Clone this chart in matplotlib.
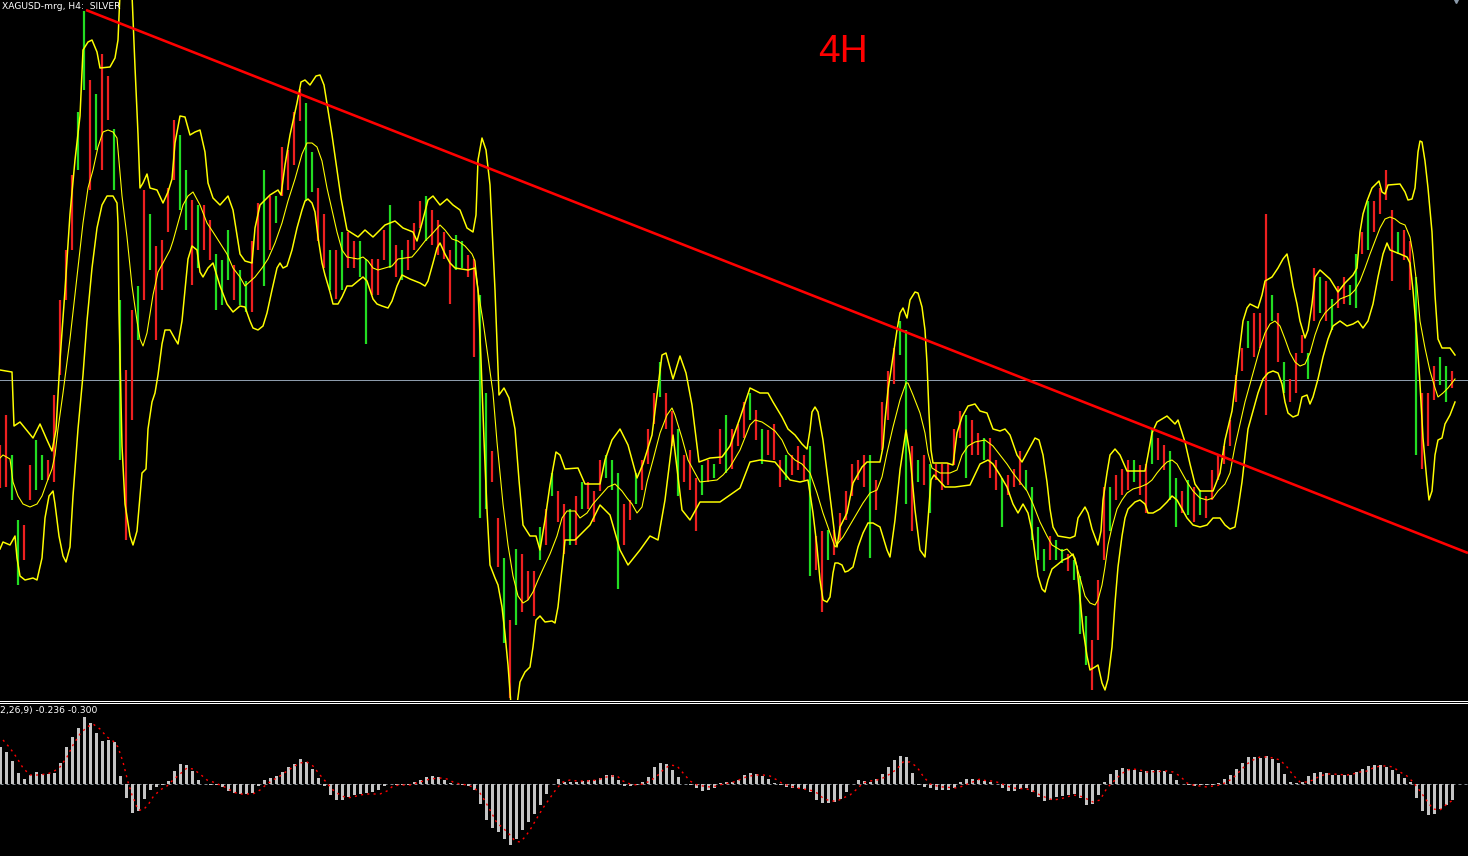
"""XAGUSD H4 chart (MT4 dark style): bars, three yellow bands, trendline, MACD pane."""
import matplotlib
matplotlib.use("Agg")
import matplotlib.pyplot as plt
from matplotlib.lines import Line2D

# time axis in 2-hour steps (one H4 bar = 2 steps), every 3rd bar drawn
# prices in points above the pane floor (1 pt = 0.005 USD)

bar_t = list(range(0, 1453, 6))
bar_hi = [
    255, 285, 245, 180, 175, 235, 260, 245, 240, 305,
    400, 450, 525, 588, 689, 620, 606, 646, 624, 571,
    400, 330, 390, 414, 510, 486, 454, 460, 512, 580,
    565, 530, 500, 495, 495, 480, 446, 440, 470, 435,
    430, 419, 459, 497, 530, 504, 504, 553, 550, 588,
    611, 597, 548, 512, 486, 450, 450, 468, 468, 459,
    459, 441, 441, 441, 470, 495, 455, 450, 460, 477,
    499, 504, 490, 480, 468, 450, 465, 459, 445, 441,
    405, 307, 249, 182, 142, 80, 151, 146, 129, 129,
    173, 191, 227, 209, 196, 191, 204, 218, 218, 209,
    240, 245, 240, 227, 196, 200, 227, 240, 271, 307,
    338, 307, 289, 271, 245, 250, 222, 235, 240, 236,
    271, 285, 271, 276, 298, 307, 290, 271, 270, 276,
    240, 245, 245, 254, 245, 254, 164, 169, 170, 170,
    187, 209, 236, 240, 245, 245, 220, 298, 329, 352,
    379, 370, 254, 240, 245, 236, 236, 236, 236, 271,
    289, 285, 280, 267, 262, 262, 240, 222, 225, 231,
    249, 230, 213, 173, 151, 164, 160, 151, 146, 140,
    124, 84, 60, 120, 213, 213, 225, 231, 240, 240,
    235, 236, 271, 262, 255, 249, 222, 209, 220, 213,
    210, 204, 230, 245, 254, 280, 325, 352, 379, 387,
    387, 486, 405, 387, 338, 321, 347, 365, 347, 432,
    423, 419, 401, 414, 423, 415, 446, 468, 499, 499,
    512, 530, 490, 468, 470, 459, 423, 307, 307, 334,
    343, 334, 329,
]
bar_lo = [
    212, 213, 200, 115, 140, 200, 210, 220, 220, 218,
    325, 400, 450, 530, 610, 510, 550, 530, 580, 510,
    240, 160, 280, 360, 400, 430, 360, 410, 468, 520,
    490, 470, 415, 432, 450, 440, 390, 395, 420, 400,
    395, 388, 388, 450, 414, 450, 477, 504, 510, 535,
    579, 499, 508, 459, 432, 410, 401, 410, 432, 432,
    423, 356, 405, 405, 440, 432, 423, 420, 430, 450,
    472, 459, 455, 445, 441, 396, 430, 432, 423, 343,
    182, 191, 218, 133, 57, 2, 75, 88, 100, 84,
    140, 155, 204, 178, 146, 155, 155, 191, 191, 178,
    209, 222, 210, 111, 155, 180, 196, 210, 236, 276,
    303, 271, 254, 204, 218, 210, 169, 205, 218, 222,
    236, 227, 231, 254, 262, 280, 260, 236, 245, 240,
    213, 220, 225, 230, 220, 124, 130, 88, 140, 145,
    160, 180, 204, 220, 213, 142, 190, 250, 280, 316,
    345, 196, 169, 218, 215, 187, 220, 210, 215, 235,
    262, 222, 245, 245, 240, 222, 210, 173, 205, 213,
    215, 210, 160, 140, 129, 140, 140, 137, 129, 120,
    66, 35, 10, 60, 140, 169, 200, 205, 210, 218,
    205, 187, 236, 240, 230, 200, 173, 187, 185, 178,
    185, 182, 200, 220, 236, 254, 298, 329, 352, 343,
    352, 285, 379, 338, 307, 298, 307, 347, 321, 379,
    387, 379, 370, 392, 396, 395, 392, 446, 450, 468,
    486, 500, 419, 446, 440, 410, 245, 231, 254, 300,
    315, 298, 312,
]
bar_dir = (
    "rrggrrggrr" "rrrggrgrrg" "grrgrgrrrr" "ggrgrrgggr" "ggrrgrgrrr"
    "rggrrgrgrr" "ggrrrgrgrr" "rgrrrrggrr" "ggrrgrgrrr" "grgrrgrgrr"
    "rgggrrgrrr" "grrgrrrgrg" "rgrrrgrgrr" "rgrrrgrrgr" "rrrrrgrrrr"
    "ggrgrgrrrr" "rgrrgrrgrr" "rggggrggrg" "ggrrrgrrrg" "rrgrrggrgr"
    "grrrrrrrgr" "rrgrgrrrgr" "grgrrggrgr" "rrrgrrgrrr" "ggr"
)

upper = [
    (0, 330), (12, 328), (14, 274), (20, 278), (33, 262), (40, 276), (47, 260), (52, 249),
    (56, 270), (60, 340), (65, 410), (70, 486), (75, 540), (80, 584), (83, 650), (88, 658),
    (92, 660), (97, 648), (100, 632), (110, 633), (115, 642), (118, 660), (121, 730),
    (131, 730), (135, 633), (138, 566), (140, 512), (143, 517), (147, 526), (150, 512),
    (157, 510), (163, 497), (168, 508), (172, 521), (175, 557), (180, 584), (185, 583),
    (190, 565), (195, 568), (200, 570), (205, 548), (208, 517), (213, 502), (220, 495),
    (228, 504), (233, 490), (240, 446), (245, 439), (252, 437), (255, 472), (260, 495),
    (270, 505), (278, 510), (281, 505), (285, 535), (290, 565), (297, 597), (301, 618),
    (305, 620), (310, 615), (316, 624), (320, 625), (324, 615), (328, 590), (332, 565),
    (337, 530), (341, 502), (347, 470), (358, 463), (365, 470), (373, 463), (385, 475),
    (395, 479), (403, 472), (413, 468), (417, 459), (422, 477), (428, 500), (433, 504),
    (440, 495), (447, 501), (453, 495), (460, 490), (467, 472), (473, 468), (476, 485),
    (478, 540), (482, 562), (486, 550), (490, 515), (495, 410), (499, 305), (504, 312),
    (509, 302), (515, 271), (519, 220), (523, 175), (530, 164), (536, 164), (540, 150),
    (545, 180), (550, 215), (556, 248), (560, 245), (565, 231), (578, 232), (585, 216),
    (600, 216), (605, 240), (612, 260), (620, 271), (628, 255), (637, 222), (643, 236),
    (652, 265), (657, 305), (662, 345), (666, 347), (673, 321), (680, 344), (686, 327),
    (692, 295), (699, 238), (710, 242), (722, 243), (730, 254), (740, 282), (750, 312),
    (760, 307), (768, 307), (773, 298), (782, 283), (788, 271), (795, 265), (802, 256),
    (807, 251), (810, 270), (812, 288), (815, 293), (818, 288), (823, 260), (828, 220),
    (832, 187), (835, 163), (837, 153), (840, 173), (847, 187), (853, 217), (862, 233),
    (867, 238), (880, 238), (883, 253), (885, 280), (888, 310), (893, 343), (897, 370),
    (900, 387), (903, 392), (907, 382), (910, 400), (915, 408), (918, 407), (922, 393),
    (925, 370), (927, 337), (929, 287), (931, 250), (933, 237), (947, 237), (953, 235),
    (957, 267), (962, 283),
    (968, 294), (975, 296), (980, 289), (987, 287), (993, 271), (1000, 269), (1005, 271),
    (1010, 265), (1017, 245), (1022, 238), (1028, 249), (1035, 262), (1039, 260),
    (1043, 245), (1047, 218), (1050, 191), (1053, 173), (1058, 164), (1070, 162),
    (1075, 164), (1078, 182), (1085, 193), (1088, 187), (1092, 171), (1098, 155),
    (1101, 169), (1103, 200), (1107, 227), (1110, 245), (1115, 251), (1120, 245),
    (1127, 229), (1145, 229), (1148, 245), (1152, 267), (1157, 278), (1167, 284),
    (1175, 276), (1178, 280), (1185, 258), (1190, 236), (1195, 216), (1200, 209),
    (1213, 209), (1220, 227), (1225, 260), (1232, 289), (1237, 329), (1243, 379),
    (1247, 392), (1250, 396), (1258, 392), (1262, 405), (1265, 419), (1272, 423),
    (1278, 432), (1283, 441), (1287, 446), (1290, 432), (1293, 414), (1297, 396),
    (1300, 379), (1305, 362), (1308, 370), (1312, 396), (1315, 423), (1320, 430),
    (1330, 421), (1338, 408), (1345, 417), (1353, 425), (1357, 432), (1360, 468),
    (1363, 486), (1367, 499), (1372, 512), (1379, 519), (1382, 508), (1385, 506),
    (1388, 515), (1400, 516), (1405, 508), (1408, 500), (1412, 501), (1415, 512),
    (1418, 548), (1420, 559), (1422, 558), (1425, 539), (1428, 512), (1432, 468),
    (1435, 405), (1438, 361), (1442, 352), (1450, 352), (1455, 345),
]

middle = [
    (0, 242), (3, 245), (10, 241), (13, 218), (18, 204), (23, 196), (30, 193), (37, 196),
    (42, 204), (47, 218), (52, 231), (55, 245), (58, 271), (63, 307), (70, 361), (77, 423),
    (83, 477), (88, 512), (93, 530), (98, 553), (103, 568), (108, 570), (113, 568),
    (117, 562), (122, 504), (127, 463), (132, 414), (137, 379), (140, 361), (143, 354),
    (147, 367), (153, 405), (158, 428), (163, 437), (170, 450), (173, 459), (178, 477),
    (183, 495), (188, 504), (193, 508), (200, 495), (207, 477), (213, 468), (220, 457),
    (227, 446), (233, 432), (240, 423), (245, 414), (255, 423), (262, 432), (268, 441),
    (275, 457), (282, 477), (288, 499), (295, 521), (302, 546), (307, 557), (312, 557),
    (317, 553), (322, 539), (327, 512), (332, 490), (337, 468), (342, 450), (347, 443),
    (358, 441), (363, 443), (368, 439), (373, 432), (378, 430), (385, 432), (392, 434),
    (398, 441), (412, 443), (418, 450), (425, 459), (432, 466), (440, 475), (445, 470),
    (452, 461), (458, 459), (465, 454), (472, 446), (475, 439), (478, 410), (483, 379),
    (488, 343), (493, 307), (497, 258), (500, 227), (503, 196), (508, 155), (513, 124),
    (518, 104), (523, 97), (528, 100), (533, 108), (538, 120), (543, 131), (550, 146),
    (557, 164), (562, 182), (567, 189), (575, 189), (580, 182), (587, 187), (593, 196),
    (600, 204), (608, 213), (615, 216), (622, 209), (627, 202), (632, 196), (637, 187),
    (642, 193), (647, 218), (653, 240), (660, 267), (667, 285), (672, 292), (675, 285),
    (682, 262), (688, 240), (695, 227), (700, 218), (717, 220), (723, 225), (730, 233),
    (740, 250), (750, 275), (755, 280), (762, 278), (768, 274), (775, 269), (782, 260),
    (788, 247), (795, 240), (802, 236), (810, 227), (817, 207), (823, 187), (830, 167),
    (835, 153), (843, 163), (853, 180), (863, 197), (870, 207), (877, 210), (882, 223),
    (887, 247), (893, 273), (900, 300), (906, 317), (908, 317), (913, 305), (920, 287),
    (925, 267), (928, 247), (932, 232), (940, 227), (950, 227), (957, 230), (962, 245),
    (968, 254), (975, 258), (985, 260), (993, 254),
    (1000, 245), (1007, 236), (1013, 227), (1020, 218), (1027, 209), (1033, 196),
    (1040, 178), (1047, 164), (1052, 155), (1062, 149), (1067, 151), (1075, 142),
    (1078, 129), (1082, 115), (1085, 104), (1090, 97), (1095, 95), (1098, 100),
    (1102, 115), (1105, 133), (1108, 155), (1112, 173), (1117, 191), (1122, 200),
    (1127, 207), (1133, 211), (1140, 213), (1147, 216), (1152, 220), (1157, 227),
    (1162, 233), (1167, 238), (1172, 240), (1177, 236), (1182, 227), (1187, 218),
    (1193, 209), (1200, 202), (1207, 200), (1213, 202), (1218, 209), (1225, 216),
    (1230, 227), (1235, 254), (1240, 276), (1245, 298), (1250, 316), (1255, 334),
    (1260, 352), (1265, 367), (1270, 376), (1275, 379), (1280, 374), (1285, 361),
    (1290, 347), (1295, 338), (1300, 334), (1305, 336), (1310, 347), (1315, 365),
    (1320, 379), (1325, 387), (1330, 392), (1335, 396), (1340, 401), (1345, 403),
    (1350, 405), (1355, 410), (1360, 419), (1365, 432), (1370, 446), (1375, 459),
    (1380, 472), (1385, 481), (1390, 483), (1395, 481), (1400, 477), (1405, 475),
    (1410, 463), (1413, 446), (1417, 414), (1420, 379), (1425, 352), (1430, 329),
    (1435, 312), (1438, 303), (1443, 307), (1448, 312), (1455, 321),
]

lower = [
    (0, 151), (3, 158), (10, 155), (15, 164), (17, 142), (20, 124), (25, 120), (33, 122),
    (37, 120), (42, 142), (45, 182), (49, 204), (53, 209), (55, 196), (59, 164), (63, 144),
    (66, 138), (70, 153), (73, 204), (78, 271), (83, 325), (87, 379), (92, 432), (97, 472),
    (102, 495), (107, 504), (113, 504), (117, 497), (118, 477), (119, 388), (122, 254),
    (125, 196), (130, 164), (133, 155), (137, 169), (140, 204), (142, 227), (146, 231),
    (148, 271), (152, 298), (155, 307), (158, 325), (162, 356), (165, 370), (170, 370),
    (175, 361), (178, 356), (182, 379), (185, 410), (188, 441), (192, 454), (197, 450),
    (200, 428), (203, 423), (208, 432), (213, 437), (220, 414), (227, 396), (233, 388),
    (240, 394), (245, 393), (250, 379), (253, 372), (258, 370), (263, 374), (267, 387),
    (272, 410), (277, 432), (280, 437), (283, 432), (287, 434), (292, 450), (297, 472),
    (302, 490), (305, 499), (308, 501), (312, 497), (315, 488), (318, 463), (322, 437),
    (325, 425), (330, 408), (333, 396), (338, 396), (342, 403), (347, 414), (352, 414),
    (358, 419), (363, 423), (367, 419), (370, 410), (373, 401), (377, 396), (382, 394),
    (388, 392), (392, 399), (397, 414), (402, 425), (410, 421), (420, 417), (425, 414),
    (428, 419), (433, 437), (437, 452), (440, 457), (445, 446), (450, 437), (455, 432),
    (468, 430), (475, 432), (478, 410), (481, 340), (484, 260), (487, 190), (490, 135),
    (495, 122), (498, 115), (502, 93), (505, 66), (508, 35), (511, -5), (517, -5),
    (520, 18), (525, 28), (530, 33), (533, 53), (536, 80), (540, 84), (545, 78),
    (552, 79), (555, 77), (558, 93), (565, 160), (575, 160), (590, 175), (600, 195),
    (610, 185), (620, 150), (628, 135), (640, 150), (650, 164), (658, 160), (665, 200),
    (673, 265), (682, 190), (690, 180), (700, 198), (720, 198), (730, 205), (740, 212),
    (750, 238), (760, 240), (775, 238), (790, 220), (800, 218), (808, 220), (813, 187),
    (817, 153), (820, 120), (823, 100), (827, 98), (830, 103), (833, 127), (835, 137),
    (838, 137), (842, 135), (845, 128), (848, 129), (853, 133), (858, 153), (863, 167),
    (868, 177), (873, 177), (880, 173), (883, 163), (887, 150), (890, 143), (895, 180),
    (900, 230), (906, 270), (910, 245), (915, 190), (920, 150), (925, 143), (928, 180),
    (931, 220), (934, 225), (945, 213), (955, 213), (970, 215), (980, 236), (988, 240),
    (993, 236),
    (1000, 225), (1007, 213), (1013, 196), (1018, 187), (1023, 196), (1028, 187),
    (1032, 169), (1035, 146), (1038, 124), (1042, 111), (1045, 108), (1048, 120),
    (1052, 131), (1057, 135), (1063, 140), (1068, 142), (1073, 146), (1077, 133),
    (1080, 102), (1083, 71), (1087, 44), (1090, 30), (1095, 33), (1098, 35), (1102, 17),
    (1105, 10), (1108, 21), (1112, 53), (1115, 97), (1118, 133), (1122, 164), (1125, 182),
    (1128, 191), (1135, 198), (1140, 200), (1145, 196), (1148, 187), (1153, 187),
    (1160, 191), (1167, 198), (1172, 204), (1177, 200), (1182, 191), (1187, 182),
    (1193, 175), (1200, 173), (1207, 175), (1213, 182), (1220, 182), (1225, 175),
    (1230, 171), (1235, 173), (1238, 191), (1242, 218), (1245, 245), (1248, 271),
    (1253, 289), (1258, 307), (1263, 321), (1268, 327), (1273, 329), (1278, 327),
    (1282, 316), (1285, 298), (1288, 287), (1293, 283), (1298, 285), (1302, 303),
    (1307, 305), (1310, 296), (1313, 303), (1318, 321), (1323, 343), (1328, 361),
    (1333, 374), (1340, 379), (1347, 374), (1353, 376), (1358, 379), (1363, 372),
    (1368, 379), (1373, 396), (1378, 423), (1383, 446), (1387, 457), (1390, 450),
    (1395, 448), (1400, 446), (1407, 443), (1410, 437), (1413, 410), (1417, 361),
    (1420, 316), (1423, 262), (1427, 218), (1429, 200), (1432, 209), (1435, 245),
    (1438, 260), (1442, 262), (1445, 276), (1450, 285), (1455, 298),
]

trend_t = [86, 1468]
trend_p = [690, 147]
level_p = 320

# MACD(12,26,9): histogram per drawn bar, signal sampled along the pane
macd_hist = [
    37, 32, 23, 11, 5, 9, 12, 10, 10, 11,
    21, 37, 47, 56, 67, 61, 51, 43, 44, 42,
    8, -14, -29, -27, -15, -6, -3, -1, 3, 13,
    20, 19, 13, 4, 0, -1, -1, -3, -7, -9,
    -10, -10, -9, -2, 4, 6, 8, 12, 17, 20,
    25, 22, 15, 6, -2, -11, -16, -16, -13, -11,
    -10, -9, -8, -6, -2, 0, -1, -1, -1, 2,
    4, 7, 8, 7, 4, 1, 0, -1, -2, -6,
    -20, -36, -44, -48, -55, -61, -55, -46, -38, -30,
    -21, -10, 0, 5, 2, 2, 2, 3, 4, 4,
    6, 9, 9, 4, -2, -2, -1, 2, 7, 17,
    21, 20, 14, 7, 0, -1, -4, -7, -6, -4,
    1, 2, 2, 4, 9, 11, 10, 8, 5, 1,
    -1, -3, -4, -4, -5, -8, -16, -19, -19, -18,
    -15, -8, 0, 4, 3, 2, 5, 10, 17, 24,
    28, 27, 11, -1, -3, -4, -6, -6, -6, -4,
    2, 5, 5, 4, 3, 2, 0, -4, -7, -7,
    -5, -4, -8, -13, -17, -16, -13, -12, -11, -10,
    -14, -21, -20, -11, 2, 10, 14, 16, 15, 14,
    12, 13, 14, 14, 13, 10, 4, 0, -1, -2,
    -1, -1, -1, 1, 5, 9, 15, 21, 27, 27,
    26, 28, 25, 21, 10, 2, 1, 2, 8, 11,
    12, 11, 9, 9, 9, 9, 12, 15, 18, 19,
    19, 17, 14, 10, 6, 2, -14, -27, -31, -30,
    -25, -21, -16,
]
macd_signal = [
    (3, 44), (10, 36), (17, 26), (23, 16), (30, 9), (37, 9), (47, 10), (53, 12), (60, 17),
    (67, 27), (73, 39), (80, 50), (87, 57), (93, 60), (100, 55), (107, 47), (113, 43),
    (118, 37), (123, 22), (128, 2), (132, -11), (135, -18), (138, -26), (143, -26),
    (148, -21), (153, -13), (160, -6), (167, -2), (173, 4), (180, 10), (187, 16),
    (193, 15), (200, 10), (207, 4), (213, 2), (220, -1), (227, -4), (233, -8), (240, -10),
    (253, -10), (260, -6), (267, 0), (273, 4), (280, 8), (287, 13), (293, 17), (300, 21),
    (307, 22), (313, 18), (320, 9), (327, 1), (333, -6), (340, -11), (347, -14),
    (353, -13), (360, -11), (367, -10), (380, -10), (387, -7), (393, -2), (400, -1),
    (410, -1), (420, 2), (430, 5), (440, 6), (447, 5), (453, 2), (460, 0), (467, -1),
    (473, -3), (480, -9), (485, -17), (490, -26), (497, -39), (503, -44), (510, -51),
    (515, -57), (520, -58), (525, -53), (530, -46), (537, -34), (543, -24), (550, -14),
    (557, -4), (563, 2), (570, 4), (577, 3), (587, 3), (597, 4), (603, 6), (610, 8),
    (617, 8), (623, 3), (630, 0), (637, -1), (643, 0), (650, 3), (657, 8), (663, 14),
    (670, 19), (677, 18), (683, 11), (690, 3), (697, -1), (703, -2), (710, -3),
    (717, -2), (723, 0), (730, 1), (737, 3), (743, 6), (750, 8), (757, 9), (763, 9),
    (770, 8), (777, 4), (783, 0), (790, -2), (797, -4), (803, -5), (810, -6), (817, -9),
    (823, -14), (830, -17), (837, -17), (843, -14), (850, -11), (857, -5), (863, 1),
    (870, 3), (877, 4), (883, 6), (890, 10), (897, 15), (903, 22), (910, 22), (917, 17),
    (923, 8), (930, 0), (937, -2), (943, -3), (957, -4), (963, -2), (970, 1), (980, 5),
    (987, 3), (993, 3), (1000, 1), (1007, -2), (1013, -4), (1027, -5), (1033, -7),
    (1040, -11), (1047, -14), (1053, -16), (1060, -15), (1067, -13), (1073, -11),
    (1080, -12), (1087, -15), (1093, -18), (1100, -16), (1107, -4), (1113, 2), (1120, 9),
    (1127, 14), (1133, 15), (1140, 14), (1147, 12), (1167, 13), (1173, 12), (1180, 8),
    (1187, 1), (1193, -1), (1200, -2), (1207, -3), (1213, -2), (1220, -1), (1227, 2),
    (1233, 6), (1240, 13), (1247, 20), (1253, 24), (1260, 27), (1267, 27), (1273, 26),
    (1280, 24), (1287, 17), (1293, 9), (1300, 2), (1307, 2), (1313, 4), (1320, 8),
    (1327, 10), (1333, 10), (1347, 9), (1353, 10), (1360, 12), (1367, 13), (1373, 16),
    (1380, 18), (1387, 18), (1393, 17), (1400, 12), (1407, 8), (1413, 2), (1420, -7),
    (1427, -17), (1433, -25), (1440, -26), (1447, -20), (1453, -16),
]

title = "XAGUSD-mrg, H4:  SILVER"
macd_label = "2,26,9) -0.236 -0.300"
tf_label = "4H"

W, H = 1468, 856
BG = "black"
GREEN, RED = "#22dd22", "#ee2020"
YELLOW = "#ffff00"
GRID = "#8c9bab"
PX = 0.72  # points per pixel at dpi 100

fig = plt.figure(figsize=(W / 100, H / 100), dpi=100, facecolor=BG)
ax = fig.add_axes([0, 156 / H, 1, 700 / H])
ax2 = fig.add_axes([0, 0, 1, 154 / H])
for a in (ax, ax2):
    a.set_facecolor(BG)
    a.set_axis_off()
    a.set_xlim(0, W)

ax.set_ylim(0, 700)
ax2.set_ylim(-72, 82)

# horizontal level
ax.axhline(level_p, color=GRID, lw=1 * PX, zorder=1)

# bars
cols = [GREEN if c == "g" else RED for c in bar_dir]
ax.vlines(bar_t, bar_lo, bar_hi, colors=cols, lw=2.2 * PX, zorder=2)

# bands
for band, lw in ((upper, 1.5), (middle, 1.1), (lower, 1.5)):
    t, p = zip(*band)
    ax.plot(t, p, color=YELLOW, lw=lw * PX, zorder=3)

# trendline
ax.plot(trend_t, trend_p, color="#ff0000", lw=2.6 * PX, zorder=4, solid_capstyle="butt")

ax.text(843, 638, tf_label, color="#ff0000", fontsize=28, family="Liberation Sans",
        ha="center", va="baseline")
ax.plot([1456], [700], marker="v", ms=5, color=GRID, clip_on=False, zorder=5)

# MACD pane
ax2.axhline(0, color="#80868c", lw=1 * PX, dashes=(3, 3), zorder=1)
ax2.bar(bar_t, macd_hist, width=3, color="#c4c4c4", zorder=2)
st, sv = zip(*macd_signal)
ax2.plot(st, sv, color="#ff0000", lw=1.4 * PX, dashes=(1.5, 3), zorder=3)

# pane separator (double white line)
for row in (700.5, 702.5):
    y = 1 - row / H
    fig.add_artist(Line2D([0, 1], [y, y], transform=fig.transFigure,
                          color="white", lw=1 * PX))

fig.text(2 / W, 1 - 2 / H, title, color="white", fontsize=6.6, family="DejaVu Sans",
         ha="left", va="top")
fig.text(0, 1 - 706 / H, macd_label, color="white", fontsize=6.6, family="DejaVu Sans",
         ha="left", va="top")

fig.savefig("out.png", dpi=100, facecolor=BG)
